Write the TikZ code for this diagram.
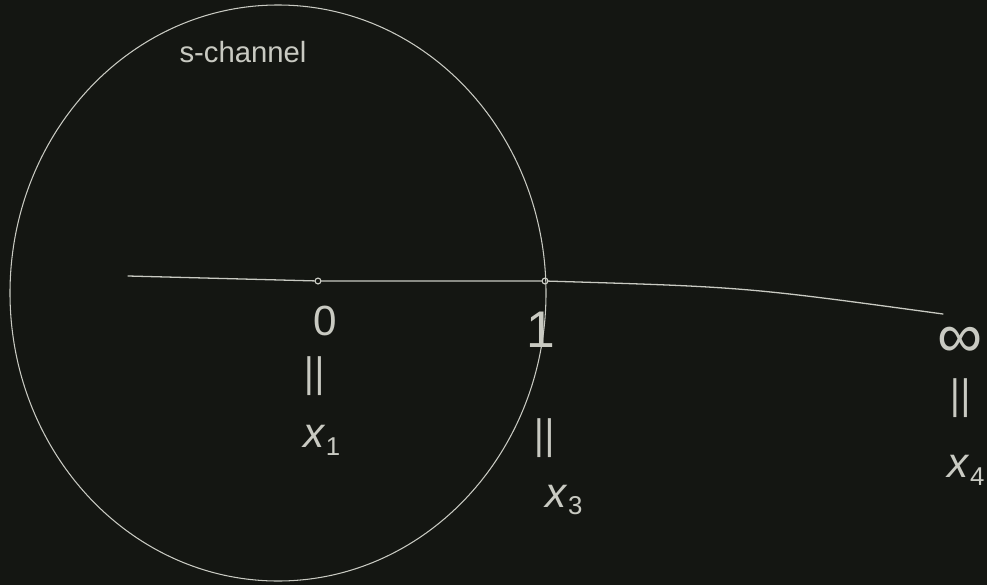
\documentclass[tikz,border=0pt]{standalone}
\usepackage{fontspec}
\usepackage{graphicx}
\setmainfont{Liberation Sans}
\definecolor{board}{HTML}{141612}
\definecolor{chalk}{HTML}{C9CAC2}
\newcommand{\subx}[1]{\textit{x}\raisebox{-0.35ex}{\fontsize{22}{22}\selectfont #1}}
\newcommand{\longeq}{\scalebox{1.9}[1]{=}}
\begin{document}
\begin{tikzpicture}[x=0.03cm,y=-0.03cm,
  chalkline/.style={draw=chalk,line width=1.1pt,line cap=round},
  lbl/.style={text=chalk,inner sep=0pt,font=\fontsize{36}{38}\selectfont},
  eqs/.style={text=chalk,inner sep=0pt,rotate=90,font=\fontsize{36}{36}\selectfont},
  dotpt/.style={circle,draw=chalk,line width=1pt,minimum size=5pt,inner sep=0pt}]
\fill[board] (0,0) rectangle (987,585);
\useasboundingbox (0,0) rectangle (987,585);
% circle of the s-channel
\draw[chalkline,line width=0.9pt] (278,293) ellipse [x radius=268, y radius=288];
\node[text=chalk,inner sep=0pt,font=\fontsize{25}{26}\selectfont] (title) at (243,52) {s-channel};
% real line
\coordinate (lstart) at (128,276);
\coordinate (lend) at (943,314);
\node[dotpt] (p0) at (318,281) {};
\node[dotpt] (p1) at (545,281) {};
\draw[chalkline] (lstart) -- (p0) -- (p1);
\draw[chalkline] (p1) .. controls (745,287) .. (lend);
% labels
\node[lbl] (z0) at (325,321) {0};
\node[eqs] (e0) at (318,376) {\longeq};
\node[lbl] (x1) at (322,440) {\subx{1}};
\node[lbl,font=\fontsize{44}{44}\selectfont] (z1) at (541,330) {1};
\node[eqs] (e1) at (548,438) {\longeq};
\node[lbl] (x3) at (564,500) {\subx{3}};
\node[lbl,font=\fontsize{54}{54}\selectfont] (zi) at (960,342) {∞};
\node[eqs] (ei) at (964,398) {\longeq};
\node[lbl] (x4) at (966,470) {\subx{4}};
\end{tikzpicture}
\end{document}
